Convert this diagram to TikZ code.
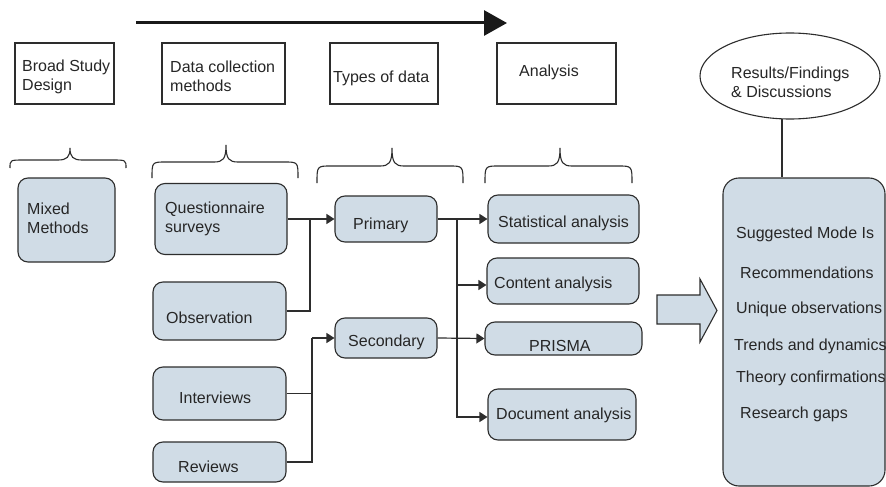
\documentclass[tikz,border=0pt]{standalone}
\usepackage{fontspec}
\setmainfont{Liberation Sans}
\usetikzlibrary{arrows.meta,shapes.geometric}
\definecolor{boxblue}{RGB}{208,220,230}
\definecolor{edge}{RGB}{45,45,45}
\tikzset{
  x=1pt, y=-1pt,
  hdr/.style={draw=edge, line width=1.1pt, fill=white, inner sep=0pt},
  bluebox/.style={draw=edge, line width=1.1pt, fill=boxblue, rounded corners=10pt, inner sep=0pt},
  lbl/.style={font=\fontsize{16}{19}\selectfont, inner sep=0pt, align=left, anchor=west, text=black!85},
  conn/.style={draw=edge, line width=1.2pt},
  arr/.style={conn, -{Triangle[length=8pt,width=10pt]}},
  brc/.style={draw=edge, line width=1.1pt},
}
% curly brace: left x, right x, tip x, tip y, straight-part y, end y
\newcommand\drawbrace[6]{%
  \draw[brc] (#1,#6) .. controls (#1,#5) .. (#1+14,#5) -- (#3-12,#5)
    .. controls (#3-3,#5) and (#3,#5-3) .. (#3,#4)
    .. controls (#3,#5-3) and (#3+3,#5) .. (#3+12,#5) -- (#2-14,#5)
    .. controls (#2,#5) .. (#2,#6);}
\begin{document}
\begin{tikzpicture}
\useasboundingbox[fill=white] (0,0) rectangle (886,487);

% flow direction arrow
\coordinate (ta) at (136,23);
\coordinate (tb) at (507,23);
\draw[draw=black!90, line width=3pt, -{Triangle[length=23pt,width=25pt]}] (ta) -- (tb);

% column headings
\node[hdr, minimum width=99pt, minimum height=61pt] (h1) at (64.5,73.5) {};
\node[hdr, minimum width=123pt, minimum height=61pt] (h2) at (223.5,73.5) {};
\node[hdr, minimum width=108pt, minimum height=61pt] (h3) at (384,73.5) {};
\node[hdr, minimum width=119pt, minimum height=61pt] (h4) at (556.5,73.5) {};
\node[lbl] (h1t) at (22,76.5) {Broad Study\\Design};
\node[lbl] (h2t) at (170,76.5) {Data collection\\methods};
\node[lbl] (h3t) at (333,78) {Types of data};
\node[lbl] (h4t) at (519,72) {Analysis};

% braces under the headings
\drawbrace{10}{126}{70}{148}{160}{168}
\drawbrace{152}{298}{226}{145}{162}{178}
\drawbrace{317}{463}{392}{148}{166}{183}
\drawbrace{485}{632}{560}{148}{166}{183}

% design
\node[bluebox, minimum width=97pt, minimum height=84pt] (mm) at (66.5,220) {};
\node[lbl] (mmt) at (27,218.5) {Mixed\\Methods};

% data collection methods
\node[bluebox, minimum width=132pt, minimum height=71pt] (qs) at (221,219) {};
\node[bluebox, minimum width=133pt, minimum height=58pt] (ob) at (219.5,311) {};
\node[bluebox, minimum width=133pt, minimum height=53pt] (iv) at (219.5,393.5) {};
\node[bluebox, minimum width=133pt, minimum height=40pt] (rv) at (219.5,462) {};
\node[lbl] (qst) at (165,218.5) {Questionnaire\\surveys};
\node[lbl] (obt) at (166,318) {Observation};
\node[lbl] (ivt) at (179,398) {Interviews};
\node[lbl] (rvt) at (178,467) {Reviews};

% types of data
\node[bluebox, minimum width=102pt, minimum height=46pt] (pr) at (386,219) {};
\node[bluebox, minimum width=102pt, minimum height=40pt] (se) at (386,338) {};
\node[lbl] (prt) at (353,225) {Primary};
\node[lbl] (set) at (348,342) {Secondary};

% analysis methods
\node[bluebox, minimum width=151pt, minimum height=48pt] (st) at (563.5,219) {};
\node[bluebox, minimum width=152pt, minimum height=46pt] (ca) at (563,281) {};
\node[bluebox, minimum width=157pt, minimum height=33pt] (pm) at (563.5,338.5) {};
\node[bluebox, minimum width=148pt, minimum height=51pt] (da) at (562,414.5) {};
\node[lbl] (stt) at (498,223) {Statistical analysis};
\node[lbl] (cat) at (494,284) {Content analysis};
\node[lbl] (pmt) at (529,346) {PRISMA};
\node[lbl] (dat) at (496,415) {Document analysis};

% results
\node[ellipse, draw=edge, line width=1.1pt, fill=white, minimum width=180pt, minimum height=86pt, inner sep=0pt] (el) at (790,76) {};
\node[lbl] (elt) at (731,82.5) {Results/Findings\\\&~Discussions};
\node[bluebox, rounded corners=16pt, minimum width=162pt, minimum height=308pt] (rb) at (804,332) {};
\node[lbl] (r1) at (736,234) {Suggested Mode Is};
\node[lbl] (r2) at (740,273) {Recommendations};
\node[lbl] (r3) at (736,309) {Unique observations};
\node[lbl] (r4) at (734,346) {Trends and dynamics};
\node[lbl] (r5) at (736,378) {Theory confirmations};
\node[lbl] (r6) at (740,414) {Research gaps};

% block arrow towards the results
\draw[draw=edge, line width=1.1pt, fill=boxblue]
  (657,295) -- (700,295) -- (700,279) -- (717,310.5) -- (700,342) -- (700,324) -- (657,324) -- cycle;

% connectors: methods to data types
\coordinate (j1) at (310,219);
\coordinate (j2) at (312,338);
\draw[arr] (qs.east) -- (pr.west);
\draw[conn] (ob.east) -| (j1);
\draw[arr] (j2) -- (se.west);
\draw[conn] (iv.east) -| (j2);
\draw[conn] (rv.east) -| (j2);

% connectors: data types to analysis
\coordinate (sp) at (457,219);
\coordinate (cain) at ([yshift=-4pt]ca.west);
\coordinate (dain) at ([yshift=-2.5pt]da.west);
\draw[arr] (pr.east) -- (st.west);
\draw[arr] (sp) |- (dain);
\draw[arr] (sp |- cain) -- (cain);
\draw[arr] (se.east) -- (pm.west);

% ellipse to results box
\coordinate (lt) at (782,119);
\draw[conn] (lt) -- (lt |- rb.north);
\end{tikzpicture}
\end{document}
